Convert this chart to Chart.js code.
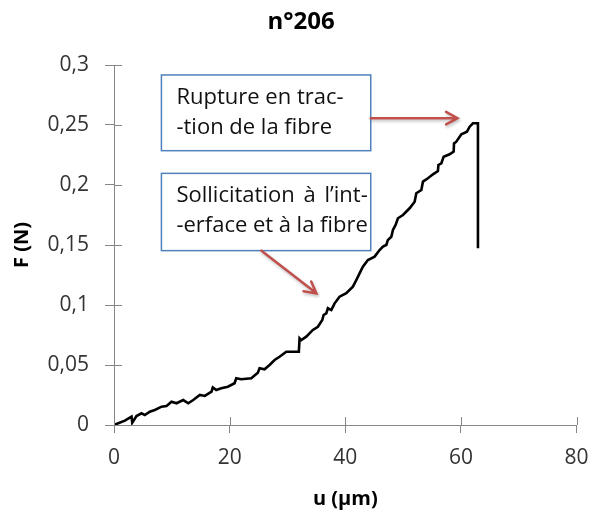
<!DOCTYPE html>
<html>
<head>
<meta charset="utf-8">
<script src="https://cdn.jsdelivr.net/npm/chart.js@4.4.0/dist/chart.umd.min.js"></script>
<style>
  html, body { margin: 0; padding: 0; background: #fff; }
  #wrap { width: 590px; height: 511px; }
</style>
</head>
<body>
<div id="wrap"><canvas id="graphe"></canvas></div>
<script>
// courbe force / déplacement, essai n°206
const deplacement = [0, 1.87, 3.03, 3.15, 3.89, 4.76, 5.33, 6.19, 7.06, 8.22, 9.08, 9.95, 10.81, 11.97, 12.84,
  13.7, 14.84, 15.71, 16.87, 17.09, 17.68, 18.55, 19.69, 20.85, 21.14, 22.01, 23.74, 24.88, 25.17, 26.04,
  26.9, 27.77, 28.63, 29.79, 30.66, 31.97, 32.09, 32.39, 33.25, 34.39, 35.26, 36.02, 36.25, 36.71, 36.99,
  37.58, 38.15, 39.01, 40.17, 41.31, 41.9, 42.47, 43.04, 43.91, 45.07, 45.93, 46.51, 47.09, 47.37, 47.96,
  48.24, 48.7, 49.1, 49.97, 51.12, 51.99, 52.28, 53.15, 53.43, 54.29, 55.16, 56.02, 56.1, 56.61, 57.01,
  58.04, 58.74, 58.8, 59.2, 60.07, 61.04, 61.51, 62.08, 62.94, 62.94];
const force = [0, 0.0036, 0.0069, 0.0019, 0.0075, 0.0098, 0.0083, 0.0111, 0.0125, 0.0153, 0.0158, 0.0194, 0.0181,
  0.0208, 0.0181, 0.0208, 0.025, 0.0242, 0.0278, 0.0314, 0.0292, 0.0306, 0.0319, 0.0348, 0.0389, 0.0381,
  0.0389, 0.0436, 0.0473, 0.0464, 0.05, 0.0542, 0.0569, 0.0611, 0.0611, 0.0611, 0.0723, 0.0708, 0.0736,
  0.0792, 0.0819, 0.0875, 0.0917, 0.0931, 0.0973, 0.0958, 0.1014, 0.1069, 0.1098, 0.1153, 0.1208, 0.1264,
  0.1319, 0.1375, 0.1403, 0.1458, 0.1486, 0.15, 0.1542, 0.1569, 0.1625, 0.1667, 0.1723, 0.175, 0.1806,
  0.1861, 0.1931, 0.1958, 0.2028, 0.2056, 0.2089, 0.2117, 0.2167, 0.2181, 0.2236, 0.2256, 0.2278, 0.2347,
  0.2361, 0.2423, 0.2444, 0.2486, 0.2514, 0.2514, 0.1473];
const ticksU = [0, 20, 40, 60, 80];
const ticksF = [0, 0.05, 0.1, 0.15, 0.2, 0.25, 0.3];
const titre = "n°206";

// encadrés et flèches (en coordonnées du graphique)
const encadres = [
  { u1: 8.2, u2: 44.4, f1: 0.2917, f2: 0.2286, justifie: false, lignes: ["Rupture en trac-", "-tion de la fibre"] },
  { u1: 8.2, u2: 44.4, f1: 0.2097, f2: 0.1453, justifie: true, lignes: ["Sollicitation à l\u2019int-", "-erface et à la fibre"] }
];
const fleches = [
  { du: 44.4, df: 0.2557, au: 59.4, af: 0.2557 },
  { du: 25.5, df: 0.1453, au: 35.0, af: 0.1097 }
];

const police = "'Open Sans', 'DejaVu Sans', sans-serif";
const virgule = v => String(Math.round(v * 100) / 100).replace(".", ",");

const extras = {
  id: "extras",
  afterDraw(chart) {
    const ctx = chart.ctx;
    const x = chart.scales.x, y = chart.scales.y;
    ctx.save();

    // titre, centré sur la figure
    ctx.fillStyle = "#000";
    ctx.font = "bold 24px " + police;
    ctx.textAlign = "center";
    ctx.textBaseline = "middle";
    ctx.fillText(titre, 301, 22);

    // petites graduations vers l'intérieur
    ctx.strokeStyle = "#868686";
    ctx.lineWidth = 1;
    ctx.beginPath();
    ticksU.forEach(v => {
      const px = Math.round(x.getPixelForValue(v)) + 0.5;
      ctx.moveTo(px, y.bottom);
      ctx.lineTo(px, y.bottom - 8);
    });
    ticksF.forEach(v => {
      const py = Math.round(y.getPixelForValue(v)) + 0.5;
      ctx.moveTo(x.left, py);
      ctx.lineTo(x.left + 8, py);
    });
    ctx.stroke();

    // encadrés
    encadres.forEach(b => {
      const l = x.getPixelForValue(b.u1), r = x.getPixelForValue(b.u2);
      const t = y.getPixelForValue(b.f1), btm = y.getPixelForValue(b.f2);
      ctx.fillStyle = "#fff";
      ctx.fillRect(l, t, r - l, btm - t);
      ctx.strokeStyle = "#4f81bd";
      ctx.lineWidth = 1.5;
      ctx.strokeRect(l, t, r - l, btm - t);
      ctx.fillStyle = "#111";
      ctx.font = "22px " + police;
      ctx.textBaseline = "middle";
      ctx.textAlign = "left";
      b.lignes.forEach((txt, i) => {
        const ty = t + 22.5 + i * 30;
        if (!b.justifie) { ctx.fillText(txt, l + 15, ty); return; }
        // texte justifié : on répartit l'espace restant entre les mots
        const mots = txt.split(" ");
        const largeur = r - l - 18;
        const plein = mots.reduce((s, m) => s + ctx.measureText(m).width, 0);
        const esp = (largeur - plein) / (mots.length - 1);
        let cx = l + 15;
        mots.forEach(m => { ctx.fillText(m, cx, ty); cx += ctx.measureText(m).width + esp; });
      });
    });

    // flèches
    fleches.forEach(f => {
      const x0 = x.getPixelForValue(f.du), y0 = y.getPixelForValue(f.df);
      const x1 = x.getPixelForValue(f.au), y1 = y.getPixelForValue(f.af);
      const a = Math.atan2(y1 - y0, x1 - x0);
      ctx.strokeStyle = "#c0504d";
      ctx.lineWidth = 2.5;
      ctx.lineCap = "round";
      ctx.shadowColor = "rgba(0,0,0,0.25)";
      ctx.shadowBlur = 3;
      ctx.shadowOffsetX = 1;
      ctx.shadowOffsetY = 2;
      ctx.beginPath();
      ctx.moveTo(x0, y0);
      ctx.lineTo(x1, y1);
      ctx.moveTo(x1 - 13 * Math.cos(a - 0.5), y1 - 13 * Math.sin(a - 0.5));
      ctx.lineTo(x1, y1);
      ctx.lineTo(x1 - 13 * Math.cos(a + 0.5), y1 - 13 * Math.sin(a + 0.5));
      ctx.stroke();
      ctx.shadowColor = "transparent";
    });
    ctx.restore();
  }
};

new Chart(document.getElementById("graphe"), {
  type: "scatter",
  data: {
    datasets: [{
      data: deplacement.map((u, i) => ({ x: u, y: force[i] })),
      showLine: true,
      borderColor: "#000",
      borderWidth: 2.6,
      pointRadius: 0,
      tension: 0,
      fill: false
    }]
  },
  options: {
    responsive: true,
    maintainAspectRatio: false,
    animation: false,
    layout: { padding: { left: 0, right: 13.4, top: 65, bottom: 0 } },
    plugins: {
      legend: { display: false },
      tooltip: { enabled: false },
      title: { display: false }
    },
    scales: {
      x: {
        type: "linear",
        min: 0, max: 80,
        afterBuildTicks: s => { s.ticks = ticksU.map(v => ({ value: v })); },
        afterFit: s => { s.height = 86; s.paddingLeft = 0; s.paddingRight = 0; },
        grid: { drawOnChartArea: false, color: "#868686", tickLength: 8 },
        border: { color: "#868686" },
        ticks: { color: "#333", font: { family: police, size: 21 }, padding: 12, maxRotation: 0, callback: v => virgule(v) },
        title: { display: true, text: "u (µm)", color: "#000", font: { family: police, size: 20, weight: "bold" }, padding: { bottom: 0 } }
      },
      y: {
        type: "linear",
        min: 0, max: 0.3,
        afterBuildTicks: s => { s.ticks = ticksF.map(v => ({ value: v })); },
        afterFit: s => { s.width = 114; s.paddingTop = 0; s.paddingBottom = 0; },
        grid: { drawOnChartArea: false, color: "#868686", tickLength: 9 },
        border: { color: "#868686" },
        ticks: { color: "#333", font: { family: police, size: 21 }, padding: 16, callback: v => virgule(v) },
        title: { display: true, text: "F (N)", color: "#000", font: { family: police, size: 20, weight: "bold" }, padding: { top: 10 } }
      }
    }
  },
  plugins: [extras]
});
</script>
</body>
</html>
